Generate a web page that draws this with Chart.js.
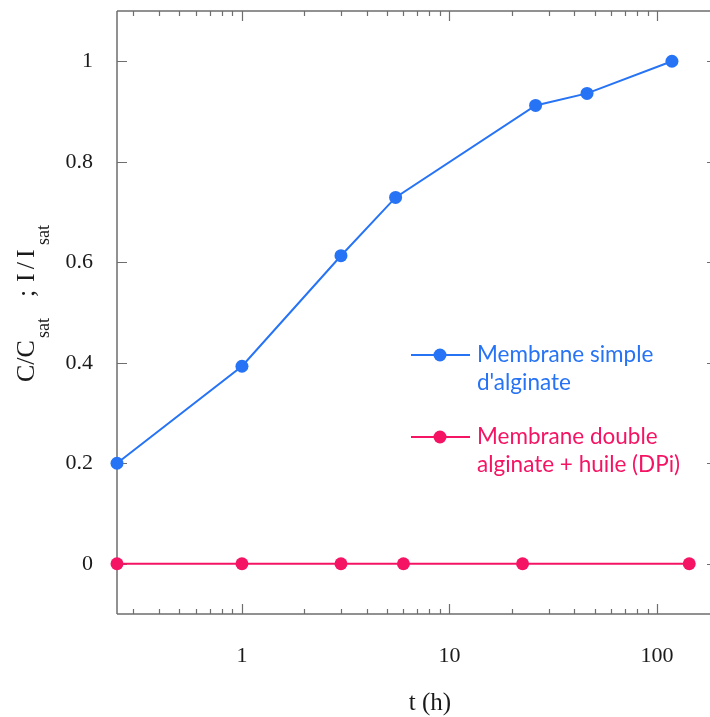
<!DOCTYPE html>
<html><head><meta charset="utf-8">
<script src="https://cdn.jsdelivr.net/npm/chart.js@4/dist/chart.umd.min.js"></script>
<style>html,body{margin:0;padding:0;background:#fff}#wrap{width:710px;height:717px}</style>
</head><body><div id="wrap"><canvas id="c" width="710" height="717"></canvas></div>
<script>
const simpleTimes = [0.25, 1, 3, 5.5, 26, 46, 118];
const simpleValues = [0.2, 0.393, 0.613, 0.729, 0.912, 0.936, 1.0];
const doubleTimes = [0.25, 1, 3, 6, 22.5, 143];
const doubleValues = [0, 0, 0, 0, 0, 0];
const xTickValues = [1, 10, 100];
const xTickLabels = ['1', '10', '100'];
const yTickValues = [0, 0.2, 0.4, 0.6, 0.8, 1];
const yTickLabels = ['0', '0.2', '0.4', '0.6', '0.8', '1'];
const seriesNames = [["Membrane simple", "d'alginate"], ["Membrane double", "alginate + huile (DPi)"]];
const xTitle = 't (h)';
const yTitleParts = [['C/C', false], ['sat', true], [';', false], ['I/I', false], ['sat', true]];

const BLUE = 'rgb(38,115,245)';
const PINK = 'rgb(245,20,100)';
const AXIS = '#6e6e6e';
const SERIF = '"Liberation Serif", "Times New Roman", serif';
const SANS = 'Lato, "Open Sans", sans-serif';
const Y_TITLE_OFFSETS = [0, 44, 85, 100, 137];

function pts(xs, ys) { return xs.map((x, i) => ({x: x, y: ys[i]})); }

const framePlugin = {
  id: 'frame',
  beforeDatasetsDraw(chart) {
    const ctx = chart.ctx, a = chart.chartArea;
    const xs = chart.scales.x, ys = chart.scales.y;
    ctx.save();
    ctx.strokeStyle = AXIS;
    ctx.lineWidth = 1.5;
    ctx.beginPath();
    ctx.moveTo(a.left, a.top); ctx.lineTo(a.left, a.bottom);
    ctx.moveTo(a.left, a.top); ctx.lineTo(a.right, a.top);
    ctx.moveTo(a.left, a.bottom); ctx.lineTo(a.right, a.bottom);
    ctx.stroke();
    ctx.lineWidth = 1.2;
    ctx.beginPath();
    for (let d = -1; d <= 2; d++) {
      for (let m = 1; m <= 9; m++) {
        const v = m * Math.pow(10, d);
        if (v < xs.min || v > xs.max) continue;
        const px = Math.round(xs.getPixelForValue(v)) + 0.5;
        const len = m === 1 ? 10 : 5;
        ctx.moveTo(px, a.bottom); ctx.lineTo(px, a.bottom - len);
        ctx.moveTo(px, a.top); ctx.lineTo(px, a.top + len);
      }
    }
    yTickValues.forEach(v => {
      const py = Math.round(ys.getPixelForValue(v)) + 0.5;
      ctx.moveTo(a.left, py); ctx.lineTo(a.left + 10, py);
      ctx.moveTo(a.right, py); ctx.lineTo(a.right - 3, py);
    });
    ctx.stroke();
    ctx.restore();
  },
  afterDraw(chart) {
    const ctx = chart.ctx;
    ctx.save();
    ctx.fillStyle = '#1a1a1a';
    ctx.font = '25px ' + SERIF;
    ctx.textAlign = 'center';
    ctx.textBaseline = 'alphabetic';
    ctx.fillText(xTitle, 430, 710);
    ctx.translate(34, 382);
    ctx.rotate(-Math.PI / 2);
    ctx.textAlign = 'left';
    yTitleParts.forEach(([t, sub], i) => {
      ctx.font = (sub ? '18px ' : '26px ') + SERIF;
      if (t === 'I/I') ctx.letterSpacing = '4px'; else ctx.letterSpacing = '0px';
      ctx.fillText(t, Y_TITLE_OFFSETS[i], sub ? 15 : 0);
    });
    ctx.restore();
    ctx.save();
    const items = [[BLUE, 355, seriesNames[0]], [PINK, 437, seriesNames[1]]];
    items.forEach(([col, y, lines]) => {
      ctx.strokeStyle = col; ctx.lineWidth = 2;
      ctx.beginPath(); ctx.moveTo(411, y); ctx.lineTo(470, y); ctx.stroke();
      ctx.fillStyle = col;
      ctx.beginPath(); ctx.arc(440, y, 6.5, 0, Math.PI * 2); ctx.fill();
      ctx.font = '22.5px ' + SANS;
      ctx.textAlign = 'left'; ctx.textBaseline = 'middle';
      lines.forEach((l, i) => ctx.fillText(l, 477, y + i * 28));
    });
    ctx.restore();
  }
};

new Chart(document.getElementById('c'), {
  type: 'line',
  data: {
    datasets: [
      {label: seriesNames[0].join(' '), data: pts(simpleTimes, simpleValues), borderColor: BLUE, backgroundColor: BLUE,
       borderWidth: 2, pointRadius: 6.5, pointHoverRadius: 6.5, pointBorderWidth: 0, clip: false, tension: 0},
      {label: seriesNames[1].join(' '), data: pts(doubleTimes, doubleValues), borderColor: PINK, backgroundColor: PINK,
       borderWidth: 2, pointRadius: 6.5, pointHoverRadius: 6.5, pointBorderWidth: 0, clip: false, tension: 0}
    ]
  },
  options: {
    responsive: false,
    animation: false,
    events: [],
    layout: {autoPadding: false, padding: {top: 11, right: 0, left: 0, bottom: 0}},
    plugins: {legend: {display: false}, tooltip: {enabled: false}},
    scales: {
      x: {
        type: 'logarithmic', min: 0.25, max: 180,
        afterBuildTicks: s => { s.ticks = xTickValues.map(v => ({value: v})); },
        afterFit: s => { s.height = 103; s.paddingLeft = 0; s.paddingRight = 0; },
        grid: {display: false}, border: {display: false},
        ticks: {autoSkip: false, maxRotation: 0, padding: 21, color: '#1a1a1a',
                font: {family: SERIF, size: 22},
                callback: v => { const i = xTickValues.indexOf(v); return i >= 0 ? xTickLabels[i] : ''; }}
      },
      y: {
        type: 'linear', min: -0.1, max: 1.1,
        afterBuildTicks: s => { s.ticks = yTickValues.map(v => ({value: v})); },
        afterFit: s => { s.width = 117; s.paddingTop = 0; s.paddingBottom = 0; },
        grid: {display: false}, border: {display: false},
        ticks: {padding: 16, color: '#1a1a1a', font: {family: SERIF, size: 22},
                callback: v => { const i = yTickValues.findIndex(t => Math.abs(t - v) < 1e-9); return i >= 0 ? yTickLabels[i] : ''; }}
      }
    }
  },
  plugins: [framePlugin]
});
</script>
</body></html>
